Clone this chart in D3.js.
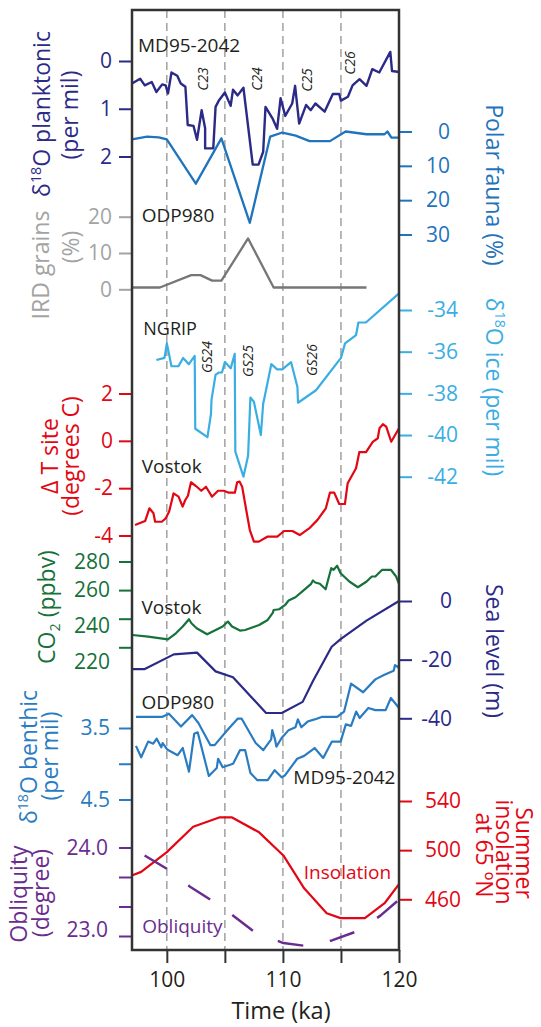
<!DOCTYPE html>
<html>
<head>
<meta charset="utf-8">
<script src="https://cdn.jsdelivr.net/npm/d3@7"></script>
<style>
  html, body { margin: 0; padding: 0; background: #fff; }
  svg { display: block; }
</style>
</head>
<body>
<svg id="chart" width="541" height="1027"></svg>
<script>
// ---- Records, as [age in ka, value] ----
const md95Planktonic = [
  [97.0,0.47],[97.7,0.37],[98.1,0.51],[98.7,0.44],[99.1,0.65],[99.6,0.49],[99.9,0.51],[100.1,0.68],
  [100.4,0.24],[100.9,0.31],[101.2,0.47],[101.6,0.54],[101.8,1.34],[102.3,1.36],[102.6,1.65],[103.0,1.03],
  [103.3,1.41],[103.3,1.83],[104.0,1.83],[104.2,0.96],[104.5,0.82],[105.0,0.66],[105.5,0.94],[105.7,0.60],
  [106.1,0.72],[106.6,0.56],[107.4,2.17],[107.9,2.17],[108.3,1.90],[108.5,0.96],[109.1,1.20],[109.5,1.42],
  [109.8,0.78],[110.2,1.15],[110.8,0.89],[111.05,0.52],[111.4,1.31],[112.0,0.92],[112.4,1.03],[112.8,0.89],
  [113.6,1.06],[114.3,0.69],[114.85,0.69],[115.0,0.83],[115.6,0.75],[116.0,0.51],[116.6,0.38],[117.2,0.52],
  [117.7,0.17],[118.3,0.24],[119.25,-0.19],[119.4,0.21],[120.0,0.23]
];
const odpPolarFauna = [
  [97.0,2.3],[98.3,1.5],[99.3,1.7],[100.0,2.3],[102.5,15.2],[104.7,2.0],[107.15,26.6],[108.9,1.5],
  [109.95,0.3],[111.1,1.2],[112.3,2.8],[114.05,2.8],[115.4,0.0],[117.2,0.8],[118.75,0.8],[119.0,0.0],
  [119.35,1.8],[120.0,1.8]
];
const odpIrd = [
  [97.0,0.5],[99.4,0.5],[102.1,3.9],[102.9,3.9],[103.9,2.4],[104.7,2.4],[107.0,14.0],[109.2,0.5],[117.2,0.5]
];
const ngripIce = [
  [99.1,-36.4],[99.8,-36.3],[100.0,-35.6],[100.4,-36.7],[101.0,-36.7],[101.4,-36.3],[101.9,-36.6],
  [102.4,-36.2],[102.45,-39.7],[103.5,-40.1],[103.8,-39.0],[103.85,-38.3],[104.2,-37.1],[104.5,-37.0],
  [104.75,-37.0],[105.0,-36.5],[105.5,-36.8],[105.85,-36.1],[105.9,-40.8],[106.6,-42.0],[107.0,-41.0],
  [107.2,-38.2],[107.5,-38.4],[108.1,-40.0],[108.3,-38.5],[108.45,-38.1],[109.0,-36.6],[109.5,-36.85],
  [109.95,-36.85],[110.7,-36.5],[111.25,-37.7],[111.3,-38.45],[112.85,-37.85],[115.0,-36.3],[115.35,-35.6],
  [116.3,-35.2],[116.5,-34.6],[117.15,-34.6],[120.0,-33.2]
];
const vostokTemp = [
  [97.26,-3.56],[98.13,-3.39],[98.5,-2.85],[98.85,-3.06],[98.99,-3.42],[99.57,-3.42],[99.91,-3.27],
  [100.2,-2.99],[100.58,-2.22],[101.01,-2.36],[101.36,-2.78],[101.59,-2.50],[101.82,-2.32],[102.08,-1.75],
  [102.51,-1.91],[102.97,-2.11],[103.37,-1.94],[103.89,-2.36],[104.41,-2.11],[104.9,-2.11],[105.34,-2.19],
  [105.86,-2.19],[106.06,-1.75],[106.26,-1.72],[106.49,-1.94],[106.84,-2.92],[107.15,-3.77],[107.5,-4.26],
  [107.93,-4.26],[108.65,-4.05],[109.52,-4.05],[110.1,-3.81],[110.82,-3.81],[111.45,-3.98],[112.26,-3.70],
  [112.98,-3.34],[113.7,-2.85],[114.05,-2.19],[114.42,-2.19],[114.85,-2.67],[115.34,-2.67],[115.58,-1.79],
  [116.3,-1.16],[116.58,-0.48],[117.16,-0.48],[117.74,-0.04],[118.17,0.11],[118.32,0.53],[118.61,0.70],
  [118.9,0.60],[119.33,-0.04],[120.0,0.53]
];
const vostokCo2 = [
  [97.04,228.6],[98.39,227.5],[100.09,225.6],[100.78,229.8],[101.37,234.5],[101.91,239.6],[102.12,236.8],
  [102.57,233.3],[103.47,229.1],[104.21,232.1],[104.81,234.5],[105.26,238.0],[105.62,234.5],[106.3,231.7],
  [106.75,232.1],[107.95,235.6],[108.69,239.1],[109.14,244.3],[109.2,246.1],[109.68,246.6],[110.19,249.6],
  [110.49,252.7],[111.08,255.0],[111.83,260.2],[112.43,264.4],[112.58,266.7],[112.79,265.3],[113.18,264.4],
  [113.68,260.6],[114.16,275.3],[114.37,274.2],[114.67,277.0],[114.97,271.8],[115.72,266.0],[116.46,262.0],
  [117.21,266.0],[117.66,269.5],[117.96,269.5],[118.55,274.2],[119.3,274.2],[119.75,269.5],[120.0,264.4]
];
const seaLevel = [
  [97.0,-23.2],[98.1,-23.2],[100.6,-18.2],[102.6,-17.6],[104.2,-24.0],[105.7,-26.0],[108.55,-38.2],
  [109.9,-38.2],[111.7,-34.4],[112.6,-27.2],[114.2,-15.6],[115.0,-12.9],[117.2,-6.7],[120.0,0.0]
];
const odpBenthic = [
  [97.34,3.345],[99.58,3.345],[100.18,3.30],[101.22,3.48],[102.18,3.32],[102.72,3.43],[103.76,3.74],
  [104.12,3.74],[105.26,3.52],[106.1,3.37],[106.45,3.37],[107.65,3.71],[108.31,3.81],[108.99,3.66],
  [109.08,3.53],[109.32,3.66],[109.44,3.76],[109.89,3.64],[110.49,3.53],[111.08,3.49],[111.29,3.38],
  [111.59,3.49],[112.13,3.41],[112.73,3.38],[113.33,3.345],[114.67,3.345],[115.27,3.27],[115.87,2.88],
  [116.91,3.00],[117.96,2.82],[118.7,2.76],[119.54,2.70],[119.66,2.62],[119.9,2.65],[120.0,2.63]
];
const md95Benthic = [
  [97.34,3.75],[97.79,3.91],[98.39,3.69],[98.83,3.72],[99.13,3.65],[99.52,3.77],[99.64,3.71],[100.03,3.80],
  [100.93,3.88],[101.37,3.78],[101.91,4.11],[102.36,3.58],[102.66,3.56],[103.62,4.17],[104.3,4.06],
  [104.42,3.93],[104.81,4.05],[105.71,4.00],[106.3,3.81],[106.75,3.81],[107.2,4.13],[107.8,4.23],
  [108.69,4.23],[109.29,4.09],[109.89,4.19],[110.19,4.16],[111.23,3.93],[111.83,3.89],[112.73,3.78],
  [113.47,3.92],[114.22,3.69],[114.97,3.69],[115.42,3.45],[115.87,3.47],[116.31,3.27],[116.61,3.36],
  [117.36,3.22],[117.96,3.25],[118.85,3.25],[119.3,3.08],[120.0,3.22]
];
const insolation65N = [
  [97.04,479.6],[97.79,482.3],[100.0,498.4],[102.27,519.1],[104.51,526.6],[105.62,526.6],[107.95,514.5],
  [110.04,495.7],[111.83,468.9],[113.77,448.7],[114.97,444.7],[117.06,444.7],[118.76,456.8],[120.0,472.3]
];
const obliquity = [
  [98.09,23.91],[100.0,23.76],[101.97,23.56],[103.76,23.41],[105.62,23.24],[107.5,23.05],[110.04,22.92],
  [111.83,22.89],[114.22,22.95],[116.31,23.05],[118.4,23.23],[120.0,23.41]
];

// ---- Tick labels and event names ----
const ageTicks = [100, 105, 110, 115, 120];
const ageGrid = [100, 105, 110, 115];
const planktonicTicks = [0, 1, 2];
const polarTicks = [0, 10, 20, 30];
const irdTicks = [0, 10, 20];
const iceTicks = [-34, -36, -38, -40, -42];
const tempTicks = [-4, -2, 0, 2];
const co2Ticks = [220, 240, 260, 280];
const seaTicks = [0, -20, -40];
const benthicTicks = [3.5, 4.0, 4.5];
const insolationTicks = [460, 500, 540];
const obliquityTicks = [23.0, 23 + 1/3, 23 + 2/3, 24.0];
const coldEvents = [
  {name: "C23", age: 103.2, pos: 79},
  {name: "C24", age: 107.85, pos: 79},
  {name: "C25", age: 112.15, pos: 80},
  {name: "C26", age: 115.85, pos: 63}
];
const stadials = [
  {name: "GS24", age: 103.55, pos: 357},
  {name: "GS25", age: 107.1, pos: 361},
  {name: "GS26", age: 112.6, pos: 360}
];

// ---- Layout ----
const FONT = "'Open Sans', 'Noto Sans', sans-serif";
const X0 = 132, X1 = 399, Y0 = 10, Y1 = 950;
const TICK_FONT = 21;
const COL = {
  indigo: "#2b2a87", fauna: "#1f74bb", irdText: "#a3a3a3", irdLine: "#767676",
  ice: "#3aaee3", red: "#e30613", green: "#16713a", benthic: "#2a7cc2",
  purple: "#6a2c8e", ink: "#231f20", frame: "#333333", grid: "#9a9a9a"
};

const svg = d3.select("#chart").attr("font-family", FONT);

const x = d3.scaleLinear().domain([97, 120]).range([X0, X1]);
const yPlank = d3.scaleLinear().domain([0, 2]).range([61, 156.5]);
const yPolar = d3.scaleLinear().domain([0, 30]).range([131.5, 234.5]);
const yIrd = d3.scaleLinear().domain([0, 20]).range([289.3, 216.7]);
const yIce = d3.scaleLinear().domain([-34, -42]).range([310, 476.7]);
const yTemp = d3.scaleLinear().domain([-4, 2]).range([535.5, 393.5]);
const yCo2 = d3.scaleLinear().domain([220, 280]).range([647.3, 561.5]);
const ySea = d3.scaleLinear().domain([-40, 0]).range([718.3, 601]);
const yBenthic = d3.scaleLinear().domain([3.5, 4.5]).range([728, 799.5]);
const yIns = d3.scaleLinear().domain([460, 540]).range([899.3, 801]);
const yObl = d3.scaleLinear().domain([23, 24]).range([936, 847.5]);

// vertical guides at every 5 ka
svg.append("g").selectAll("line").data(ageGrid).join("line")
  .attr("x1", d => x(d)).attr("x2", d => x(d))
  .attr("y1", Y0).attr("y2", Y1)
  .attr("stroke", COL.grid).attr("stroke-width", 1.4).attr("stroke-dasharray", "8,5");

// ---- Series ----
function drawSeries(data, yScale, color, width, dash) {
  const line = d3.line().x(d => x(d[0])).y(d => yScale(d[1]));
  const p = svg.append("path").datum(data).attr("d", line)
    .attr("fill", "none").attr("stroke", color).attr("stroke-width", width)
    .attr("stroke-linejoin", "round");
  if (dash) p.attr("stroke-dasharray", dash);
  return p;
}
drawSeries(md95Planktonic, yPlank, COL.indigo, 2.4);
drawSeries(odpPolarFauna, yPolar, COL.fauna, 2.3);
drawSeries(odpIrd, yIrd, COL.irdLine, 2.3);
drawSeries(ngripIce, yIce, COL.ice, 2.2);
drawSeries(vostokTemp, yTemp, COL.red, 2.2);
drawSeries(vostokCo2, yCo2, COL.green, 2.2);
drawSeries(seaLevel, ySea, COL.indigo, 2.2);
drawSeries(odpBenthic, yBenthic, COL.benthic, 2.2);
drawSeries(md95Benthic, yBenthic, COL.benthic, 2.2);
drawSeries(insolation65N, yIns, COL.red, 2.2);
drawSeries(obliquity, yObl, COL.purple, 2.5, "26,27");

// ---- Axes ----
// labelShift lets a tick label sit a little off its tick, as printed on the CO2 and obliquity axes
function leftAxis(scale, values, fmt, color, pad, labelShift) {
  const g = svg.append("g").attr("transform", `translate(${X0},0)`)
    .call(d3.axisLeft(scale).tickValues(values).tickFormat(fmt).tickSize(13).tickPadding(pad));
  g.attr("font-family", FONT).attr("font-size", TICK_FONT);
  g.select(".domain").remove();
  g.selectAll(".tick line").attr("stroke", color).attr("stroke-width", 2);
  const txt = g.selectAll(".tick text").attr("fill", color);
  if (labelShift) txt.attr("y", d => labelShift(d));
  return g;
}
function rightAxis(scale, values, fmt, color, labelEnd) {
  const g = svg.append("g").attr("transform", `translate(${X1},0)`)
    .call(d3.axisRight(scale).tickValues(values).tickFormat(fmt).tickSize(13));
  g.attr("font-family", FONT).attr("font-size", TICK_FONT);
  g.select(".domain").remove();
  g.selectAll(".tick line").attr("stroke", color).attr("stroke-width", 2);
  g.selectAll(".tick text").attr("fill", color).attr("text-anchor", "end").attr("x", labelEnd);
  return g;
}
const plain = d => String(d);
leftAxis(yPlank, planktonicTicks, plain, COL.indigo, 7);
leftAxis(yIrd, irdTicks, plain, COL.irdText, 7);
leftAxis(yTemp, tempTicks, plain, COL.red, 6);
leftAxis(yCo2, co2Ticks, plain, COL.green, 9, d => (d === 240 ? 7 : d === 220 ? 14 : 0));
leftAxis(yBenthic, benthicTicks, d => (d === 4.0 ? "" : d.toFixed(1)), COL.benthic, 9);
leftAxis(yObl, obliquityTicks, d => (d === 23 || d === 24 ? d.toFixed(1) : ""), COL.purple, 11,
  d => (d === 23 ? -6 : 0));

rightAxis(yPolar, polarTicks, plain, COL.fauna, 51);
rightAxis(yIce, iceTicks, plain, COL.ice, 59);
rightAxis(ySea, seaTicks, plain, COL.indigo, 53);
rightAxis(yIns, insolationTicks, plain, COL.red, 62);

const xAxis = svg.append("g").attr("transform", `translate(0,${Y1})`)
  .call(d3.axisBottom(x).tickValues(ageTicks).tickFormat(d => (d % 10 === 0 ? d : "")).tickSize(13).tickPadding(9));
xAxis.attr("font-family", FONT).attr("font-size", 21);
xAxis.select(".domain").remove();
xAxis.selectAll(".tick line").attr("stroke", COL.frame).attr("stroke-width", 2);
xAxis.selectAll(".tick text").attr("fill", COL.ink);

// plot frame
svg.append("rect").attr("x", X0).attr("y", Y0).attr("width", X1 - X0).attr("height", Y1 - Y0)
  .attr("fill", "none").attr("stroke", COL.frame).attr("stroke-width", 2.5);

// ---- Axis titles ----
// parts: plain strings, or {sup: "..."} / {sub: "..."}
function title(cx, cy, angle, parts, color, size) {
  const t = svg.append("text")
    .attr("transform", `translate(${cx},${cy}) rotate(${angle})`)
    .attr("text-anchor", "middle").attr("fill", color).attr("font-size", size);
  let shift = 0;
  parts.forEach(p => {
    const s = t.append("tspan");
    if (typeof p === "string") {
      s.text(p).attr("dy", -shift); shift = 0;
    } else if (p.sup) {
      s.text(p.sup).attr("font-size", size * 0.62).attr("dy", -size * 0.4 - shift); shift = -size * 0.4;
    } else if (p.sub) {
      s.text(p.sub).attr("font-size", size * 0.62).attr("dy", size * 0.22 - shift); shift = size * 0.22;
    }
  });
  return t;
}
const TS = 23;
title(50, 114, -90, ["δ", {sup: "18"}, "O planktonic"], COL.indigo, TS);
title(78, 115, -90, ["(per mil)"], COL.indigo, TS);
title(49, 265, -90, ["IRD grains"], COL.irdText, TS);
title(79, 247, -90, ["(%)"], COL.irdText, TS);
title(58, 456, -90, ["Δ T site"], COL.red, TS);
title(79, 456, -90, ["(degrees C)"], COL.red, TS);
title(55, 607, -90, ["CO", {sub: "2"}, " (ppbv)"], COL.green, TS);
title(37, 757, -90, ["δ", {sup: "18"}, "O benthic"], COL.benthic, TS);
title(58, 756, -90, ["(per mil)"], COL.benthic, TS);
title(27, 894, -90, ["Obliquity"], COL.purple, TS);
title(49, 893, -90, ["(degree)"], COL.purple, TS);

title(486, 185, 90, ["Polar fauna (%)"], COL.fauna, TS);
title(486, 387, 90, ["δ", {sup: "18"}, "O ice (per mil)"], COL.ice, TS);
title(486, 651, 90, ["Sea level (m)"], COL.indigo, TS);
title(516, 853, 90, ["Summer"], COL.red, TS);
title(496, 852, 90, ["insolation"], COL.red, TS);
title(476, 855, 90, ["at 65 ºN"], COL.red, TS);

svg.append("text").attr("x", 281).attr("y", 1019).attr("text-anchor", "middle")
  .attr("fill", COL.ink).attr("font-size", 23.5).text("Time (ka)");

// ---- Record names inside the frame ----
const recordNames = [
  {t: "MD95-2042", x: 138, y: 52, c: COL.ink, s: 19},
  {t: "ODP980", x: 141.7, y: 222, c: COL.ink, s: 19},
  {t: "NGRIP", x: 143.3, y: 335, c: COL.ink, s: 18},
  {t: "Vostok", x: 141.7, y: 473, c: COL.ink, s: 19},
  {t: "Vostok", x: 141.5, y: 613.5, c: COL.ink, s: 19},
  {t: "ODP980", x: 141.5, y: 708.5, c: COL.ink, s: 19},
  {t: "MD95-2042", x: 293.3, y: 783.5, c: COL.ink, s: 19},
  {t: "Insolation", x: 303.7, y: 878.5, c: COL.red, s: 19},
  {t: "Obliquity", x: 142.2, y: 933, c: COL.purple, s: 19}
];
svg.append("g").selectAll("text").data(recordNames).join("text")
  .attr("x", d => d.x).attr("y", d => d.y).attr("fill", d => d.c)
  .attr("font-size", d => d.s).text(d => d.t);

// cold events and Greenland stadials, written upright along the time axis
svg.append("g").selectAll("text").data(coldEvents.concat(stadials)).join("text")
  .attr("transform", d => `translate(${x(d.age) + 4},${d.pos}) rotate(-90)`)
  .attr("text-anchor", "middle").attr("font-style", "italic")
  .attr("font-size", 14).attr("fill", COL.ink).text(d => d.name);
</script>
</body>
</html>
